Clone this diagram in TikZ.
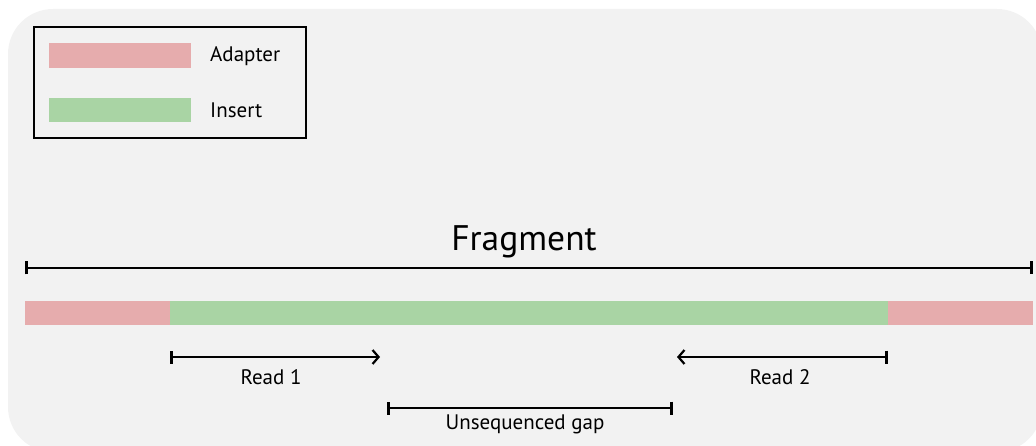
\documentclass[tikz,border=0pt]{standalone}
\usepackage{fontspec}
\setmainfont{PT Sans}
\usetikzlibrary{arrows.meta}
\definecolor{bgc}{HTML}{F2F2F2}
\definecolor{adc}{HTML}{E6ACAD}
\definecolor{inc}{HTML}{A9D4A4}
\tikzset{
  span/.style={line width=2.6pt, {Bar[width=13pt,line width=2.6pt]}-{Bar[width=13pt,line width=2.6pt]}},
  readarrow/.style={line width=2.6pt, {Bar[width=13pt,line width=2.6pt]}-{Straight Barb[length=6pt,width=14pt,line width=2.2pt]}},
  lbl/.style={inner sep=0pt, font=\fontsize{21}{24}\selectfont},
  seg/.style={draw=none, inner sep=0pt, minimum height=24pt, anchor=west},
}
\begin{document}
\begin{tikzpicture}[x=1pt,y=-1pt]
\useasboundingbox (0,0) rectangle (1036,446);
\fill[bgc, rounded corners=45pt] (8,9) rectangle (1042,452);
% legend
\node[draw, line width=2pt, minimum width=272pt, minimum height=111pt, anchor=north west, inner sep=0pt] (legend) at (33,26) {};
\fill[adc] (49,43) rectangle (191,68);
\fill[inc] (49,98) rectangle (191,122);
\node[lbl, anchor=west] (tad) at (210,56) {Adapter};
\node[lbl, anchor=west] (tin) at (210,110) {Insert};
% fragment
\node[inner sep=0pt, font=\fontsize{35.5}{40}\selectfont] (frag) at (524,242) {Fragment};
\coordinate (fl) at (25,268);
\coordinate (fr) at (1033,268);
\draw[span] (fl) -- (fr);
% bar
\node[seg, fill=adc, minimum width=145pt] (ad1) at (25,313) {};
\node[seg, fill=inc, minimum width=718pt] (ins) at (170,313) {};
\node[seg, fill=adc, minimum width=145pt] (ad2) at (888,313) {};
% reads
\coordinate (r1s) at (170,357);
\coordinate (r1e) at (380,357);
\draw[readarrow] (r1s) -- (r1e);
\node[lbl] (r1) at (271,377) {Read 1};
\coordinate (r2s) at (888,357);
\coordinate (r2e) at (677,357);
\draw[readarrow] (r2s) -- (r2e);
\node[lbl] (r2) at (780,377) {Read 2};
% gap
\coordinate (gl) at (387,408);
\coordinate (gr) at (673,408);
\draw[span] (gl) -- (gr);
\node[lbl] (gap) at (525,424) {Unsequenced gap};
\end{tikzpicture}
\end{document}
